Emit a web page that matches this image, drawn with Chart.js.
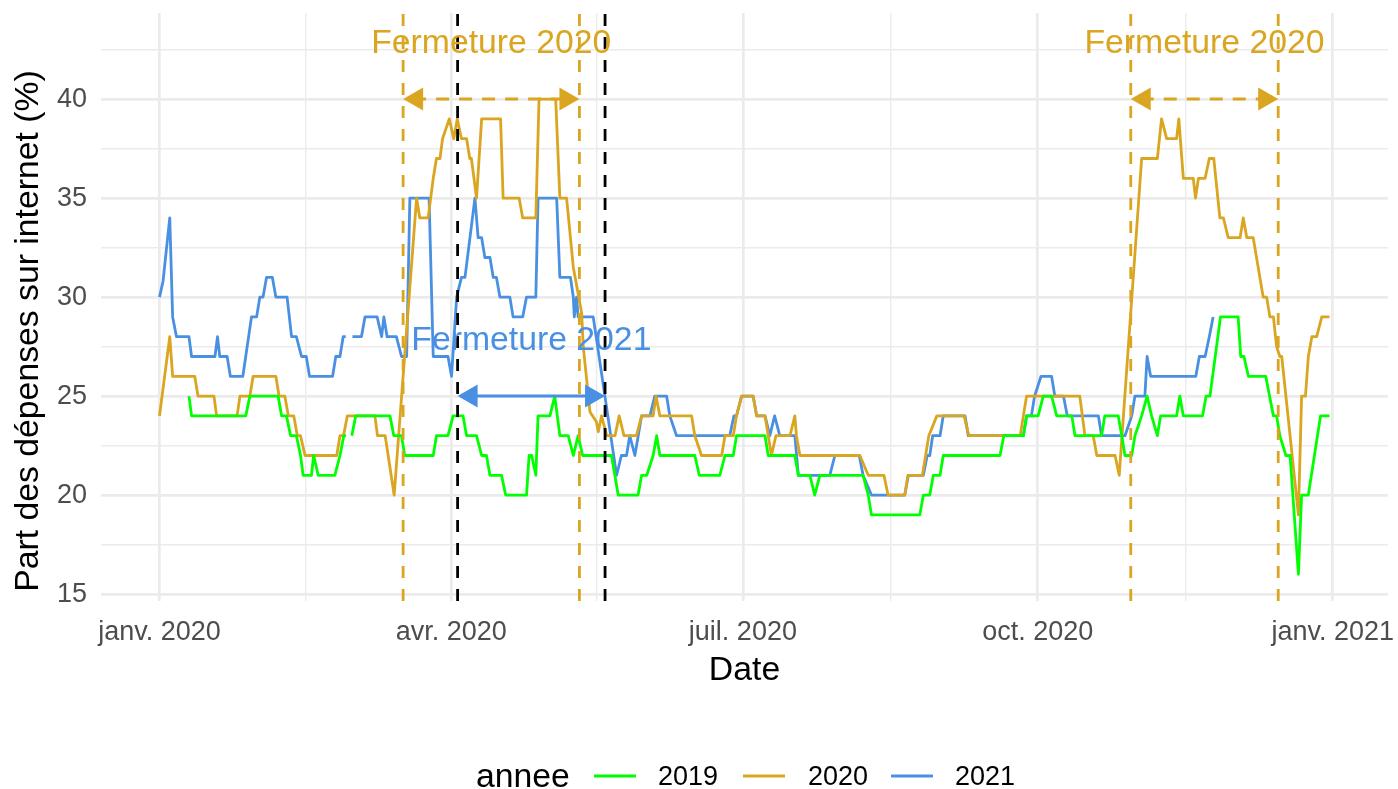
<!DOCTYPE html>
<html>
<head>
<meta charset="utf-8">
<script src="https://cdn.jsdelivr.net/npm/chart.js@4.4.1/dist/chart.umd.min.js"></script>
<style>
html,body{margin:0;padding:0;background:#ffffff;}
#wrap{width:1398px;height:789px;position:relative;}
</style>
</head>
<body>
<div id="wrap"><canvas id="c" width="1398" height="789"></canvas></div>
<script>
// ---- data: [day of year (0 = 1 Jan), share %] ; null = missing day (29 Feb)
const series2019 = [[9.2,25],[10,24],[26.9,24],[28.2,25],[37,25],[38.1,24],[39.6,24],[40.9,23],[42.7,23],[44,22],[44.8,21],[47.4,21],[48.1,22],[49.5,21],[54.7,21],[56.3,22],[57.5,23],[58.2,23],[59,null],[60,23],[61.2,24],[71.9,24],[73.1,23],[75.5,23],[76.5,22],[85.4,22],[86.4,23],[90,23],[91.6,24],[94.7,24],[95.8,23],[98.9,23],[100.5,22],[102,22],[103.1,21],[106.7,21],[108,20],[114.5,20],[115.3,22],[116.1,22],[117.4,21],[118.1,24],[121.8,24],[123.3,25],[124.9,23],[127.5,23],[129.1,22],[130.6,23],[132,22],[141,22],[143.1,20],[149.3,20],[150.4,21],[152,21],[154,22],[155.1,23],[156.1,22],[167,22],[168.4,21],[174.8,21],[176.4,22],[179,22],[180,23],[188.9,23],[189.9,22],[198.2,22],[199.3,21],[202.9,21],[204.4,20],[206,21],[219.5,21],[221.1,20],[222.1,19],[237.2,19],[238.3,20],[240.3,20],[241.4,21],[243.5,21],[244.5,22],[262.2,22],[263.4,23],[269.5,23],[270.5,24],[274.1,24],[275.7,25],[278.3,25],[279.9,24],[284.6,24],[285.6,23],[293.9,23],[294.9,24],[299.1,24],[300.2,23],[301.2,22],[303.3,22],[304.3,23],[306.4,24],[308.1,25],[309.5,24],[311.3,23],[312.3,24],[317.3,24],[318.3,25],[319.4,24],[325.4,24],[326.5,25],[327.7,25],[331,29],[336.5,29],[337.3,27],[338.3,27],[339.7,26],[345.1,26],[347.5,24],[348.5,24],[349.5,23],[351.4,22],[352.7,22],[355.3,16],[356.3,20],[358.4,20],[362.2,24],[365,24]];

const series2020 = [[0,24],[3.2,28],[4.1,26],[11,26],[12,25],[17,25],[17.8,24],[24.2,24],[25.1,25],[28.2,25],[29.2,26],[36.3,26],[37.3,25],[39.1,25],[40.2,24],[41.9,24],[43,23],[44,23],[45.4,22],[55.3,22],[56.3,23],[57.4,23],[58.6,24],[67.2,24],[68,23],[70.4,23],[73.2,20],[80.2,35],[81.2,34],[83.8,34],[85.4,36],[86.4,37],[87.5,37],[88.3,38],[90.4,39],[91.8,38],[92.9,39],[94.2,38],[95.8,38],[96.8,37],[97.3,37],[98.9,35],[100.5,39],[106.4,39],[107.2,35],[112.2,35],[113.3,34],[117.4,34],[118.4,40],[123.6,40],[124.9,35],[127,35],[129.1,31.5],[131.7,29.2],[132.2,27.5],[134.3,24.2],[136.3,23.7],[136.9,23.2],[137.9,24],[139.5,23],[142.1,23],[143.4,24],[144.9,23],[148.8,23],[150.4,24],[154,24],[154.9,25],[156.1,24],[166,24],[167,23],[169.1,22],[175.4,22],[176.4,23],[179,23],[180,24],[181.6,25],[185.2,25],[186.3,24],[188.9,24],[189.9,23],[190.9,22],[192.3,23],[196.7,23],[198.2,24],[198.7,23],[199.8,22],[218.5,22],[221.1,21],[226,21],[227.3,20],[232.5,20],[233.5,21],[238,21],[239,22],[240,23],[242.5,24],[251,24],[252.5,23],[268.5,23],[269.5,24],[270.5,25],[287.1,25],[288.7,23],[291.3,23],[292.4,22],[298.1,22],[299.4,21],[306.4,37],[311.3,37],[312.6,39],[314.2,38],[317.3,38],[318,39],[319.4,36],[322.5,36],[323.2,35],[324.1,36],[326.2,36],[327.5,37],[328.9,37],[330.8,34],[331.9,34],[333.4,33],[337.1,33],[338.1,34],[339.2,33],[341.2,33],[344.3,30],[345.4,30],[346.4,29],[347.5,29],[348.5,27.5],[349.5,27],[350.1,27],[355.3,19],[356.3,25],[357.5,25],[358.4,27],[359.5,28],[361,28],[362.6,29],[365,29]];

const series2021 = [[0,30],[1.1,30.8],[3.2,34],[4.1,29],[5.3,28],[9.2,28],[10,27],[17.3,27],[18.1,28],[18.8,27],[21.1,27],[22.1,26],[26,26],[28.7,29],[30.3,29],[31.3,30],[32.3,30],[33.4,31],[35.2,31],[36.3,30],[39.8,30],[41.2,28],[42.7,28],[44.3,27],[45.8,27],[46.8,26],[54,26],[55,27],[56.3,27],[57.3,28],[58.1,28],[59,null],[60.2,28],[63,28],[64.1,29],[67.9,29],[69.3,28],[70,29],[71,28],[73.9,28],[75.5,27],[77.1,27],[78.1,35],[84.1,35],[85.4,27],[90,27],[91.1,26],[92.7,30],[94.2,31],[95.3,31],[98.4,35],[99.4,33],[100.5,33],[101.5,32],[103.1,32],[104.1,31],[105.1,31],[106.2,30],[109.3,30],[110.3,29],[113.3,29],[114.5,30],[117.4,30],[118.1,35],[123.9,35],[124.9,31],[128.2,31],[129.1,30],[129.4,29],[130.1,30],[130.6,29],[135.3,29],[142.6,21],[144.1,22],[145.7,22],[146.7,23],[148.3,22],[150.4,24],[153,24],[154.5,25],[158.2,25],[159.2,24],[161.3,23],[177.9,23],[179.2,24],[180,24],[181.6,25],[185.2,25],[186.3,24],[188.9,24],[190.4,23],[191.9,24],[193.5,23],[198.2,23],[199.3,21],[209.1,21],[210.7,22],[218.3,22],[219.5,21],[222.1,20],[232.5,20],[233.6,21],[238.3,21],[239.5,22],[240.3,22],[241.2,23],[243.5,23],[244.5,24],[251.3,24],[252.3,23],[269.5,23],[270.5,24],[272,24],[273,25],[275,26],[278.3,26],[279.3,25],[282,25],[283.2,24],[292.9,24],[293.9,23],[301.2,23],[303.3,24],[304.3,25],[307.4,25],[308.1,27],[309.2,26],[323.3,26],[324.4,27],[326.2,27],[327.5,28],[328.7,29]];

const seriesNames  = ['2019', '2020', '2021'];
const seriesColors = ['#00FF00', '#DAA520', '#4A90E2'];

// axis ticks
const xMajorDays   = [0, 91, 182, 274, 366];
const xMajorLabels = ['janv. 2020', 'avr. 2020', 'juil. 2020', 'oct. 2020', 'janv. 2021'];
const xMinorDays   = [45.5, 136.5, 228, 320];
const yMajorTicks  = [15, 20, 25, 30, 35, 40];
const yMinorTicks  = [17.5, 22.5, 27.5, 32.5, 37.5, 42.5];

// closures (day of year)
const closure2020Starts = [76, 303];
const closure2020Ends   = [131, 349];
const closure2021Starts = [93];
const closure2021Ends   = [139];
const closure2020ArrowY = 40, closure2020LabelY = 43;
const closure2021ArrowY = 25, closure2021LabelY = 28;
const closure2020Label = 'Fermeture 2020';
const closure2021Label = 'Fermeture 2021';

const FONT = "'Liberation Sans', Arial, sans-serif";
Chart.defaults.font.family = FONT;

function toPoints(arr){ return arr.map(p => ({x: p[0], y: p[1]})); }
const allSeries = [series2019, series2020, series2021];

function arrowHead(ctx, xTip, y, dir){
  const len = 20, half = 11.5;
  ctx.beginPath();
  ctx.moveTo(xTip, y);
  ctx.lineTo(xTip - dir*len, y - half);
  ctx.lineTo(xTip - dir*len, y + half);
  ctx.closePath();
  ctx.fill();
}
function drawArrow(ctx, x1, x2, y, color, dash){
  ctx.save();
  ctx.strokeStyle = color; ctx.fillStyle = color; ctx.lineWidth = 3;
  ctx.setLineDash(dash);
  ctx.beginPath(); ctx.moveTo(x1 + 10, y); ctx.lineTo(x2 - 10, y); ctx.stroke();
  ctx.setLineDash([]);
  arrowHead(ctx, x1, y, -1);
  arrowHead(ctx, x2, y, 1);
  ctx.restore();
}
function vline(ctx, x, area, color){
  ctx.save();
  ctx.strokeStyle = color; ctx.lineWidth = 2.8; ctx.setLineDash([12, 11]);
  ctx.beginPath(); ctx.moveTo(x, area.bottom); ctx.lineTo(x, area.top); ctx.stroke();
  ctx.restore();
}

const LABEL_SHIFT = 3.5; // caps centre vs canvas 'middle' baseline
const annotationPlugin = {
  id: 'closures',
  afterDatasetsDraw(chart){
    const {ctx, chartArea: area, scales: {x, y}} = chart;
    ctx.save();
    ctx.beginPath(); ctx.rect(area.left, area.top, area.right-area.left, area.bottom-area.top); ctx.clip();
    closure2020Starts.forEach((s,i) => { vline(ctx, x.getPixelForValue(s), area, seriesColors[1]); vline(ctx, x.getPixelForValue(closure2020Ends[i]), area, seriesColors[1]); });
    closure2021Starts.forEach((s,i) => { vline(ctx, x.getPixelForValue(s), area, '#000000'); vline(ctx, x.getPixelForValue(closure2021Ends[i]), area, '#000000'); });
    closure2020Starts.forEach((s,i) => drawArrow(ctx, x.getPixelForValue(s), x.getPixelForValue(closure2020Ends[i]), y.getPixelForValue(closure2020ArrowY), seriesColors[1], [13, 10]));
    closure2021Starts.forEach((s,i) => drawArrow(ctx, x.getPixelForValue(s), x.getPixelForValue(closure2021Ends[i]), y.getPixelForValue(closure2021ArrowY), seriesColors[2], []));
    ctx.restore();
    ctx.save();
    ctx.font = '33.75px ' + FONT; ctx.textAlign = 'center'; ctx.textBaseline = 'middle';
    ctx.fillStyle = seriesColors[1];
    closure2020Starts.forEach((s,i) => ctx.fillText(closure2020Label, x.getPixelForValue((s + closure2020Ends[i])/2), y.getPixelForValue(closure2020LabelY) + LABEL_SHIFT));
    ctx.fillStyle = seriesColors[2];
    closure2021Starts.forEach((s,i) => ctx.fillText(closure2021Label, x.getPixelForValue((s + closure2021Ends[i])/2), y.getPixelForValue(closure2021LabelY) + LABEL_SHIFT));
    ctx.restore();
  },
  afterDraw(chart){
    const ctx = chart.ctx;
    // y-axis title
    ctx.save();
    ctx.translate(29, 331); ctx.rotate(-Math.PI/2);
    ctx.font = '33.75px ' + FONT; ctx.fillStyle = '#000'; ctx.textAlign = 'center'; ctx.textBaseline = 'middle';
    ctx.fillText('Part des dépenses sur internet (%)', 0, 0);
    ctx.restore();
    // legend
    ctx.save();
    const ly = 777;
    ctx.textBaseline = 'middle'; ctx.textAlign = 'left'; ctx.fillStyle = '#000';
    ctx.font = '33.75px ' + FONT;
    ctx.fillText('annee', 476, ly + 1);
    const keyX = [594, 743, 891], labX = [658, 808, 955];
    ctx.font = '27px ' + FONT;
    seriesNames.forEach((n,i) => {
      ctx.strokeStyle = seriesColors[i]; ctx.lineWidth = 2.8;
      ctx.beginPath(); ctx.moveTo(keyX[i], ly - 1); ctx.lineTo(keyX[i] + 42, ly - 1); ctx.stroke();
      ctx.fillStyle = '#000'; ctx.fillText(n, labX[i], ly + 1);
    });
    ctx.restore();
  }
};

new Chart(document.getElementById('c'), {
  type: 'line',
  data: {
    datasets: allSeries.map((s,i) => ({
      label: seriesNames[i], data: toPoints(s), borderColor: seriesColors[i], backgroundColor: seriesColors[i],
      borderWidth: 2.8, pointRadius: 0, tension: 0, spanGaps: false, borderJoinStyle: 'round', fill: false
    }))
  },
  options: {
    responsive: false, animation: false, devicePixelRatio: 1,
    layout: {padding: {left: 0, top: 13, right: 10, bottom: 0}},
    plugins: {legend: {display: false}, tooltip: {enabled: false}},
    scales: {
      x: {
        type: 'linear', min: -18.25, max: 383.25,
        afterBuildTicks: s => { s.ticks = xMajorDays.concat(xMinorDays).sort((a,b)=>a-b).map(v => ({value: v})); },
        afterFit: s => { s.height = 188; s.paddingLeft = 0; s.paddingRight = 0; },
        grid: {color: '#EBEBEB', drawTicks: false, lineWidth: c => (c.tick && xMajorDays.includes(c.tick.value)) ? 2.7 : 1.4},
        border: {display: false},
        ticks: {autoSkip: false, maxRotation: 0, minRotation: 0, padding: 15, color: '#4D4D4D', font: {size: 27},
          callback: v => { const i = xMajorDays.indexOf(v); return i >= 0 ? xMajorLabels[i] : ''; }},
        title: {display: true, text: 'Date', color: '#000', font: {size: 33.75}, padding: {top: 0, bottom: 98}}
      },
      y: {
        type: 'linear', min: 14.65, max: 44.35,
        afterBuildTicks: s => { s.ticks = yMajorTicks.concat(yMinorTicks).sort((a,b)=>a-b).map(v => ({value: v})); },
        afterFit: s => { s.width = 101; s.paddingTop = 0; s.paddingBottom = 0; },
        grid: {color: '#EBEBEB', drawTicks: false, lineWidth: c => (c.tick && yMajorTicks.includes(c.tick.value)) ? 2.7 : 1.4},
        border: {display: false},
        ticks: {autoSkip: false, padding: 14, color: '#4D4D4D', font: {size: 27},
          callback: v => yMajorTicks.includes(v) ? String(v) : ''}
      }
    }
  },
  plugins: [annotationPlugin]
});
</script>
</body>
</html>
